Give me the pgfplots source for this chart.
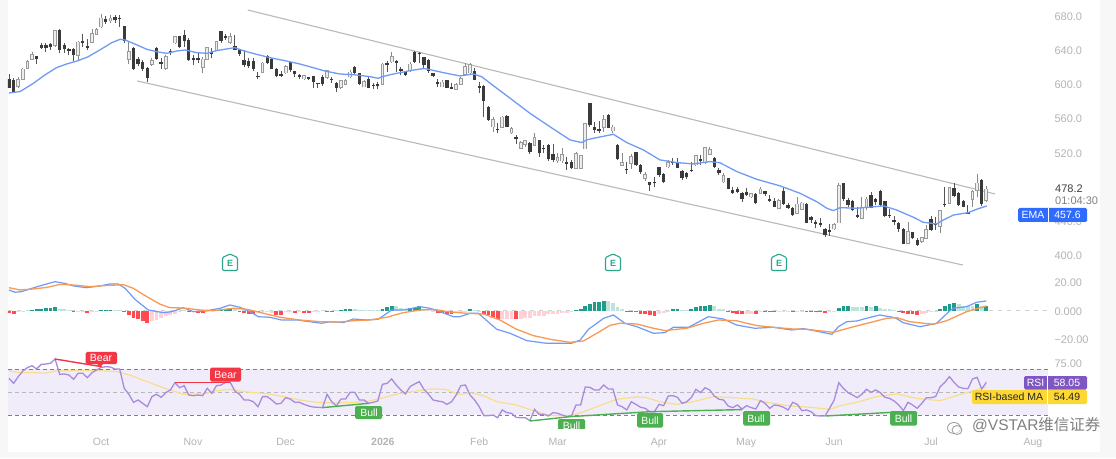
\documentclass[border=0pt]{standalone}
\usepackage{pgfplots}
\usepackage{pgfplotstable}
\usepackage{fontspec}
\pgfplotsset{compat=1.18}
\setmainfont{Liberation Sans}
\newfontfamily\cjk{Noto Sans CJK SC}
\definecolor{wick}{HTML}{555555}
\definecolor{dbody}{HTML}{3A3A3A}
\definecolor{hout}{HTML}{9A9A9A}
\definecolor{hfill}{HTML}{EDEDED}
\definecolor{ema}{HTML}{6F9BF7}
\definecolor{macdb}{HTML}{6F9BF7}
\definecolor{macdo}{HTML}{F79A55}
\definecolor{trend}{HTML}{B9B9B9}
\definecolor{hG}{HTML}{1F9D8A}
\definecolor{hg}{HTML}{BCE4DD}
\definecolor{hR}{HTML}{FF4A4F}
\definecolor{hr}{HTML}{FFD0D6}
\definecolor{rsi}{HTML}{A98BDD}
\definecolor{rsima}{HTML}{F8DE8C}
\definecolor{band}{HTML}{F1ECFA}
\definecolor{tlabel}{HTML}{B4B4B4}
\definecolor{bullc}{HTML}{4CAF50}
\definecolor{bearc}{HTML}{F23645}
\definecolor{ebadge}{HTML}{2BA68F}
\definecolor{emat}{HTML}{2F6BFF}
\definecolor{rsit}{HTML}{7E57C2}
\definecolor{mat}{HTML}{FDD835}
% i = candle index, h = high, t = top of body, b = bottom of body, l = low
\pgfplotstableread{
i h t b l
0 612.1 605.9 596.5 595.4
1 607 605.1 591.5 591.5
6 633.2 632.4 630 623.8
7 648.8 645.3 643.3 641
8 648.8 646 643.3 638.2
9 648.8 646.8 644.1 640.2
11 664.4 662.8 641 636.3
12 648 646 642.2 637.1
13 642.9 641.4 639.4 634.3
14 642.9 641 634.3 627.7
16 658.9 650 648.8 644.1
17 652.7 644.9 643.3 640.2
21 680 676.5 673.4 670.6
23 680.8 678.4 675.3 671.4
24 681.2 677.3 676.5 667.5
25 668.3 668.3 651.1 648
27 644.1 642.2 618.8 616.8
28 632.4 629.3 623.8 621.5
29 628.5 625.8 618.8 616
30 619.9 618.8 608.2 602.4
32 643.3 642.2 630.5 628.5
33 630.5 625.4 624.6 617.6
35 641 639 637.1 634.3
37 656.6 655.8 644.1 642.2
38 663.6 657 651.1 644.1
39 653.9 651.9 629.3 627.7
40 634.3 630.5 628.5 622.6
41 638.2 630.5 629.3 624.6
44 642.2 637.1 635.5 630.5
46 662.4 661.6 651.1 648.8
47 658.5 656.6 655 651.9
49 657.7 644.1 641 640.2
50 641 639.4 636.3 633.2
51 640.2 627.7 622.7 619.9
52 630.5 627.3 621.9 619.5
53 630.5 627.3 618.8 616
54 614.9 609.8 609 605.9
56 634.3 632.4 625.8 623.8
57 630.5 629.3 618.8 617.6
58 618.8 618 609.8 608.2
59 616 612.1 610.6 608.2
61 626.6 625.4 616.8 614.9
62 616 614.9 612.1 608.2
63 612.1 610.2 609 605.9
65 609 608.2 606.7 605.1
66 609.8 609 603.2 595.4
67 602 601.2 600.4 595.4
68 611 608.2 600.4 598.1
70 608.2 606.3 605.1 602
71 603.2 601.2 596.5 591.5
75 621.5 619.9 614.1 612.1
76 613.7 612.9 601.2 599.2
78 608.2 606.3 596.5 595.4
79 602 599.3 598.1 594.2
80 603.2 600 598.1 594.2
82 627.7 624.6 623.4 614.9
84 628.5 627.3 625.8 614.9
85 619.9 617.6 616 610.9
86 616 614.9 610.9 610.2
88 639.4 637.5 626.5 624.6
89 638.3 636.3 635.5 624.6
90 632.4 631.6 622.6 618.8
91 629.3 628.5 616 613.7
92 613.7 612.9 610.2 609
93 605.9 602 600.4 597.3
95 605.1 604.3 596.5 595.7
96 602 596.5 595 594.2
101 618.8 614.9 605.9 605.1
102 603.2 598.1 596.5 590.3
103 599.3 598.1 580.9 561.4
104 574.7 573.1 558.3 557.5
106 554.4 547.8 546.6 542.7
108 564.2 563 550.5 549.7
110 540.7 537.6 535.7 530.2
113 533 531 521.3 518.5
115 534.9 534.1 519.3 515.4
116 529 525.2 524 520.1
117 530.2 529 512.3 510.7
118 529.8 518.1 511.5 509.6
121 514.6 508.4 506.8 499.8
122 511.5 509.2 501.8 500.6
126 578.6 577.8 552.4 550.5
127 556.4 549.7 546.6 542.7
128 557.5 547.4 545.8 542.7
130 565.3 563.4 549.7 548.6
132 529.8 529 512.7 511.5
134 509.6 500.6 499.4 495.1
136 520.9 520.1 505.7 504.9
137 506.8 505.7 497.9 495.1
139 485.8 485 481.9 475.6
140 491.2 485 484.2 480.3
141 503.7 502.9 494 492
142 495.9 495.1 486.2 485
144 513.4 508.8 507.6 505.7
145 513.4 508.8 502.9 501.7
146 499.8 498.6 490.1 488.1
147 497.9 495.9 491.2 488.9
148 508.8 499.8 499 497.9
150 517.4 512.3 510.7 505.7
153 515.4 513.5 503.7 501.7
154 501.7 499.8 495.9 494
156 490.7 490 478.3 477.1
157 480.2 475.5 473.6 471.6
158 480.2 477.1 474 472.4
159 474.4 472.4 465.8 462.7
160 478.3 473.2 470.4 469.3
162 473.2 471.6 461.5 459.9
164 475.5 474.4 472.4 469.3
165 470.4 465.4 463.8 462.7
166 466.5 462.7 456.8 456
168 479.4 474.4 459.9 458.8
169 460.7 458.8 456 453.7
170 456 454.9 447 445.9
173 460.7 459.9 438.1 437.3
174 445.9 444.3 442 438.1
175 441.2 438.1 436.5 431.4
176 443.2 437.3 435.4 432.6
177 431.4 430.3 423.7 420.9
178 436.5 428.7 427.6 422.5
181 484.9 484.1 466.5 463.8
182 466.5 463.8 458.8 456
183 464.6 462.7 452.9 452.1
184 456 447 445.1 443.2
187 474.4 469.7 456 454.9
188 466.5 465.4 462.7 458.8
189 476.3 475.1 458.8 457.6
190 463.8 462.7 446.3 445.1
191 453.7 447 445.9 443.2
192 445.9 441 439.3 435.4
193 439.3 437.3 431.4 427.6
194 431.4 430.3 413.9 413.1
196 427.6 426.4 419.8 418.6
197 419.8 417.8 412 410.8
200 445.9 442 429.5 428.7
201 444.3 437.3 435.4 429.5
203 479.4 459.9 458.8 456.8
205 484.9 478.3 469.3 467.7
206 474.4 472.4 458.8 457.6
207 464.6 462.7 456.8 456
208 458.8 449.8 449 448.2
211 488.8 488 459.9 457.6
}\downT
\pgfplotstableread{
i h t b l
2 608.2 605.1 598.1 595.4
3 618.8 617.6 605.9 605.1
4 628.5 626.6 618.8 617.6
5 638.2 634.3 629.3 628.5
10 663.6 662.4 646 644.1
15 651.1 649.2 634.3 627.7
18 664.4 658.9 649.2 648
19 665.6 663.6 658.9 657.7
20 682.3 677.3 667.5 665.6
22 681.2 677.3 674.5 671.4
26 650 638.2 629.3 623.8
31 630.5 627.7 623.8 621.9
34 634.3 632.4 618.8 616.8
36 657 655.8 648.8 647.2
42 631.6 629.3 619.9 613.7
43 644.1 642.9 629.3 628.5
45 651.1 650 640.2 639.4
48 659.7 655.8 649.2 647.2
55 626.6 624.6 614.1 612.9
60 622.6 620.7 613.7 612.1
64 611 609.8 606.7 605.1
69 616.8 615.6 608.2 606.7
72 605.1 604.3 596.5 594.2
73 605.9 604.3 600.4 599.2
74 616.8 614.1 609 607
77 605.1 603.2 597.3 596.5
81 624.6 623.4 600.4 599.3
83 638.3 632.4 626.5 625.4
87 626.5 623.4 616 614.9
94 605.1 602.4 597.3 596.5
97 601.2 599.3 594.6 593.4
98 608.2 606.3 600 599.3
99 624.6 620.7 612.1 610.9
100 625.4 622.6 613.7 612.1
105 561.4 558.3 550.5 544.7
107 563 561.4 549.7 548.6
109 550.5 547.8 543.5 541.9
111 534.1 531.8 525.5 524.4
112 534.9 533.7 530.2 527.1
114 542.7 537.6 529 527.9
119 519.3 514.2 510.7 508.4
120 525.2 517.4 510.7 507.6
123 521.3 518.5 502.2 501.4
124 517.4 516.2 502.2 501.4
125 555.2 553.6 524.8 524
129 564.2 558.3 549.7 544.7
131 552.4 549.7 545.8 543.5
133 519.3 507.6 505.7 504.9
135 518.5 514.6 507.6 500.6
138 497.9 493.6 490.1 487.3
143 511.5 508.4 503.7 501.7
149 517.4 516.2 506 504.5
151 527.1 525.2 508.4 506.8
152 526.3 523.2 518.5 517.4
155 495.8 493.1 486 484.9
161 473.2 471.6 468.5 467.3
163 480.2 477.1 472.4 471.6
167 465.4 463.8 454.9 453.7
171 468.5 459.5 449 448.2
172 462.7 460.7 453.7 452.9
179 437.3 435.4 431.1 429.5
180 484.1 481 438.1 437.3
185 468.5 454.9 443.2 442.4
186 468.5 465.4 456 452.9
195 439.3 427.6 413.9 412.7
198 421.7 419.8 416.6 414.7
199 435.4 429.5 419.8 418.6
202 452.9 451.7 434.2 425.6
204 480.2 478.3 460.7 459.9
209 476.3 474.4 465.8 456
210 495 484.1 476.3 468.5
212 481 477.1 464.6 462.6
}\upT
\pgfplotsset{
  pane/.style={
    scale only axis, width=1040pt,
    xmin=-0.217, xmax=225.38,
    axis line style={draw=none},
    tick style={draw=none},
    ytick pos=right,
    yticklabel pos=right,
    yticklabel style={anchor=west,text=tlabel,font=\fontsize{11}{13}\selectfont,xshift=3pt,yshift=-0.7pt},
    xtick=\empty,
  },
  wk/.style={draw=wick,line width=0.9pt,-},
}
\begin{document}
\begin{tikzpicture}
\path[use as bounding box] (0,0) rectangle (1116pt,458pt);
\fill[white!97!black] (0,0) rectangle (1116pt,458pt);
\fill[white] (8pt,6pt) rectangle (1100pt,458pt);

% ---------- price pane ----------
\begin{axis}[pane, name=price, anchor=south west, at={(8pt,186pt)}, height=272pt,
  ymin=380.24, ymax=698.74,
  ytick={400,440,520,560,600,640,680},
  yticklabels={400.0,440.0,520.0,560.0,600.0,640.0,680.0}]
\addplot[trend,line width=1.1pt] coordinates {(51.8,687) (213.9,471.6)};
\addplot[trend,line width=1.1pt] coordinates {(27.8,603.9) (206.9,388.4)};
\addplot[wk,quiver={u=0,v=\thisrow{h}-\thisrow{l}}] table[x=i,y=l] {\downT};
\addplot[wk,draw=wick!70,quiver={u=0,v=\thisrow{h}-\thisrow{l}}] table[x=i,y=l] {\upT};
\addplot[draw=dbody,-,line width=3.3pt,quiver={u=0,v=\thisrow{t}-\thisrow{b}+0.6}] table[x=i,y expr=\thisrow{b}-0.3] {\downT};
\addplot[draw=hout,-,line width=3.8pt,quiver={u=0,v=\thisrow{t}-\thisrow{b}+1.8}] table[x=i,y expr=\thisrow{b}-0.9] {\upT};
\addplot[draw=hfill,-,line width=1.8pt,quiver={u=0,v=\thisrow{t}-\thisrow{b}}] table[x=i,y=b] {\upT};
\addplot[ema,line width=1.3pt] coordinates {
(0,589.9)(2.4,591.5)(5.3,601.2)(7.8,611)(10.3,619.5)(12.5,623.8)(15,627.7)(17.2,632.4)(19.7,640.2)(22.3,648.8)(24.1,652.7)(25.2,651.9)(27.3,647.2)(29.9,641)(32,638.2)(34.2,636.3)(36.4,639)(38.2,640.2)(40.7,637.1)(42.9,636.3)(45,639.4)(47.2,641.4)(49,642.9)(50.8,639.4)(53.7,635.1)(56.6,631.2)(60.2,627.3)(63.1,623.8)(66,619.5)(68.5,615.6)(71.8,612.1)(74.7,611.3)(78.3,609)
(80.1,607)(81,609)(83.4,612.1)(87,616)(89.9,618.4)(91,617.6)(94.2,613.7)(97.8,609.8)(100.7,612.1)(102.5,609)(105.8,595.4)(108.7,583.7)(113,566.1)(117.3,550.5)(121.7,534.9)(124.2,531.8)(125.3,534.9)(126.8,536.8)(131.1,541.5)(134,531.8)(137.6,523.2)(141.2,511.5)(144.8,508.4)(148.4,506.8)(152,509.5)(154.2,508.2)(157.9,497.8)
(162.2,488.8)(167.3,481)(171.6,472.4)(175.2,462.6)(177.4,454.9)(178.8,452.1)(180.3,455.6)(183.9,454.9)(189.7,457.6)(192.5,452.9)(196.2,444.3)(198.3,438.5)(201.2,436.5)(202.7,441.2)(204.9,447)(208.1,449.8)(209.9,453.7)(212.1,457.6)};
\end{axis}

% ---------- MACD pane ----------
\begin{axis}[pane, name=macd, anchor=south west, at={(8pt,110pt)}, height=76pt,
  ymin=-26.08, ymax=27.06,
  ytick={-20,0,20}, yticklabels={−20.00,0.000,20.00}]
\addplot[draw=black!18,dash pattern=on 4pt off 5pt,line width=0.8pt] coordinates {(-0.2,0) (225.38,0)};
\addplot[hR,ycomb,line width=3.8pt] coordinates {(0,-1.8)(1,-2.5)(14,-0.7)(17,-1.5)(25,-1.2)(26,-2.8)(27,-5)(28,-6)(29,-7)(30,-8.7)(39,-0.6)(40,-1.2)(41,-1.8)(42,-1.8)(50,-0.8)(51,-1.5)(52,-2.2)(53,-2.6)(54,-1)(58,-3)(59,-3)(62,-1.5)(64,-1.5)(65,-1.5)(69,-1)(70,-1)(93,-1.5)(94,-1.8)(95,-2)(96,-2.5)(103,-2)(104,-3)(105,-4.5)(106,-5.5)(110,-6)(134,-0.5)(135,-0.6)(136,-1)(137,-2)(138,-2.5)(139,-3)(140,-3.5)(156,-0.6)(157,-1.5)(158,-2)(159,-2.5)(162,-2.5)(164,-0.8)(165,-1.2)(166,-1.2)(170,-1)(173,-1)(174,-1.2)(175,-1.2)(176,-1.2)(177,-1.5)(193,-0.4)(194,-1.5)(195,-2)(196,-2)(197,-3)};
\addplot[hr,ycomb,line width=3.8pt] coordinates {(2,-0.8)(3,-0.5)(15,-0.5)(16,-0.5)(18,-0.5)(19,-0.4)(31,-7.5)(32,-6.5)(33,-5)(34,-4)(35,-3)(36,-2)(37,-0.5)(43,-0.5)(55,-0.7)(56,-1)(57,-1.5)(60,-1)(61,-0.8)(63,-0.5)(66,-1)(67,-0.5)(92,-0.5)(97,-1)(98,-0.7)(99,-0.7)(102,-0.5)(107,-5.5)(108,-5.5)(109,-5.5)(111,-6)(112,-5)(113,-5)(114,-4)(115,-3.5)(116,-3.5)(117,-2.5)(118,-2.5)(119,-2)(120,-1.5)(121,-1.5)(122,-1)(141,-2.5)(142,-1.5)(143,-0.5)(160,-2)(161,-2)(163,-0.7)(167,-0.5)(168,-0.5)(169,-0.7)(171,-0.5)(172,-0.5)(178,-1)(179,-0.5)(198,-2)(199,-1.5)(200,-0.6)(201,-0.2)};
\addplot[hG,ycomb,line width=3.8pt] coordinates {(5,0.5)(6,1)(7,1.2)(8,1.8)(9,2)(10,2.5)(20,0.6)(21,0.8)(22,0.8)(46,0.8)(47,1)(48,1.3)(72,0.5)(73,1)(74,1.5)(81,1.5)(82,2.5)(83,3.5)(87,2)(88,2.2)(89,3)(100,1)(123,0.5)(124,1.5)(125,3.5)(126,5)(127,6)(128,6)(129,7)(144,1)(145,1.2)(148,1)(149,2.5)(150,3)(151,3.5)(152,4)(180,2)(181,3.5)(182,3.5)(186,3.5)(188,3)(202,1.2)(203,3)(204,5)(205,5.5)(210,4.5)(212,3.5)};
\addplot[hg,ycomb,line width=3.8pt] coordinates {(4,0.3)(11,1.5)(12,1)(13,0.5)(23,0.4)(24,0.3)(38,0.4)(44,0.3)(45,0.3)(49,1)(68,0.2)(71,0.3)(75,1)(76,0.8)(77,0.5)(78,0.3)(79,0.3)(80,0.5)(84,3)(85,2)(86,1.5)(90,1.5)(91,0.5)(101,0.5)(130,6.5)(131,5.5)(132,2.5)(133,1)(146,0.6)(147,0.3)(153,3)(154,1.5)(155,1)(183,2.5)(184,2.5)(185,2.5)(187,2.5)(189,2)(190,1.5)(191,1)(192,0.5)(206,4.5)(207,3.5)(208,3)(209,3)(211,3)};
\addplot[macdb,line width=1.2pt] coordinates {
(0,14.5)(1.3,12.9)(2.7,13.3)(4.9,15.6)(7.4,18)(10,20.3)(12.1,19.1)(14,17.3)(16.8,16.1)(19.7,17.3)(21.9,18.7)(23.7,18.7)(25.2,15.6)(27.3,8)(30.2,0.5)(33.5,-1.4)(35.3,-0.7)(37.8,2.1)(40,-0.7)(42.9,0)(45.8,1.7)(47.9,4)(50.1,2.4)(52.3,-0.7)(54.1,-4.2)(56.6,-4.6)(59.1,-6.5)(62.4,-6.5)(65.3,-7.7)(67.8,-8.8)(69.6,-7.7)(72.5,-8.3)(74.7,-5.8)(77.6,-6.5)(80.1,-6)(83,0.5)(85.5,0.5)(89.2,2.8)(91.3,1.7)(93.5,-0.7)(96.4,-4.2)(97.8,-4.2)(100,-1.8)(101.8,-1.8)(103.3,-6)(105.8,-13)(108.7,-15.8)(112.3,-20.9)(116.6,-22.8)(122,-22.8)(123.9,-20.5)(125.7,-13)(129,-5.3)(131.1,-3)(133.6,-8.8)(136.2,-11.2)(139.8,-15.8)(142.3,-15.3)(144.1,-11.6)(147.4,-11.6)(151.7,-4.2)(155,-5.8)(157.8,-10)(161.8,-12.3)(165.8,-11.6)(169.8,-13.5)(172.3,-12.5)(175.6,-14.6)(178.5,-16.5)(179.9,-11.2)(181.7,-7.7)(183.9,-7.2)(186,-5.3)(188.9,-3)(192.2,-4.9)(194,-8.4)(197.6,-11.2)(201.2,-8.8)(204.1,0)(204.8,1.7)(207.7,2.8)(209.9,5.9)(212,6.8)};
\addplot[macdo,line width=1.3pt] coordinates {
(0,16.1)(2.4,14.5)(5.3,15.2)(8.2,16.3)(11.1,18.4)(14,18)(17.6,16.8)(20.5,17.5)(24.8,18.2)(27,15.6)(29.9,9.8)(32.8,4.5)(34.9,2.1)(37.8,1.9)(41.4,0.5)(44.3,0)(48.7,1.7)(51.6,1)(55.2,-1.8)(58.8,-4.6)(63.1,-6.5)(67.5,-7.7)(71.8,-7.9)(74.7,-7)(78.3,-6.5)(81.9,-4.6)(85.5,-1.4)(89.2,0.5)(92,1)(95.7,-0.9)(99.3,-1.8)(102.9,-2.3)(106.5,-6.5)(110.1,-13)(113.7,-17.4)(117.4,-20)(121.7,-22.1)(124.6,-21.2)(127.5,-15.8)(130.4,-10.2)(132.5,-8.8)(136.2,-9.3)(139.8,-12.3)(142.3,-13.9)(147,-12.3)(150.6,-8.8)(153.9,-6.5)(157.8,-7)(160.7,-9.3)(162.2,-10.4)(165.8,-11.6)(170.1,-12.8)(173,-13)(178.8,-15.1)(183.2,-11.2)(187.5,-7.7)(190.4,-5.3)(192.6,-4.9)(195.4,-7.7)(200.5,-9.5)(203.4,-7)(207.7,-0.7)(212,3.3)};
\end{axis}

% ---------- RSI pane ----------
\begin{axis}[pane, name=rsi, anchor=south west, at={(8pt,30pt)}, height=76pt,
  ymin=19.14, ymax=84.66, clip=true,
  ytick={75}, yticklabels={75.00},
  xtick={19.96,39.9,60,81.1,102,119,141,159.9,179,200,222.1},
  xticklabels={Oct,Nov,Dec,\textbf{2026},Feb,Mar,Apr,May,Jun,Jul,Aug},
  xticklabel style={text=tlabel,font=\fontsize{10.5}{12}\selectfont,yshift=-5.5pt,text height=8pt,text depth=0pt}]
\addplot[draw=none,fill=band] coordinates {(-0.217,30) (225.38,30) (225.38,70) (-0.217,70)} -- cycle;
\addplot[draw=black!50,dash pattern=on 4pt off 3pt,line width=0.8pt] coordinates {(-0.217,70) (225.38,70)};
\addplot[draw=black!28,dash pattern=on 4pt off 3pt,line width=0.8pt] coordinates {(-0.217,50) (225.38,50)};
\addplot[draw=black!50,dash pattern=on 4pt off 3pt,line width=0.8pt] coordinates {(-0.217,30) (225.38,30)};
\addplot[rsima,line width=1.2pt] coordinates {
(0,68.3)(2.4,66.9)(5.3,66.9)(7.8,66.3)(10,68.3)(13.2,68.6)(19.7,68.6)(23.4,67.7)(26.2,64.8)(29.9,59.1)(34.2,52.8)(37.8,48.2)(42.2,48.5)(45,51.3)(47.9,52.5)(51.6,50.2)(55.9,48.7)(59.5,46.2)(63.1,43.3)(66.7,41.3)(70.4,40.7)(74.7,41.3)(78.3,42.4)(81.2,45.3)(84.8,49)(88.4,51)(91.7,52.8)(94.6,52.5)(97.5,48.2)(100.4,49.3)(102.9,47)(105.8,41.8)(110.1,39)(113.7,34.1)(117.4,29.8)(121.7,29.5)(124.6,33.2)(128.9,39.5)(131.8,43.9)(136.2,45.9)(138,45.6)(141.2,41.8)(144.9,39.5)(148.4,41.8)(152.8,46.2)(157.1,45.3)(161.5,44.1)(164.4,41.3)(169.4,38.1)(173.8,37)(178.1,35.2)(180.3,38.4)(183.9,41.3)(188.2,46.2)(192.6,48.5)(196.9,44.7)(202,42.7)(207.7,49.6)(212,54.5)};
\addplot[rsi,line width=1.3pt] coordinates {
(0,62)(1,57.6)(2,63.4)(3,68.3)(4,71.2)(5,72.9)(6,70)(7,74)(8,74.3)(9,74.9)(10,78.6)(11,65.4)(12,65.7)(13,64.8)(14,61.1)(15,66.3)(16,66.3)(17,62.5)(18,66.8)(19,69.1)(20,71.4)(21,72)(22,71.7)(23,70)(24,70)(25,53.3)(26,48.2)(27,41.3)(28,43.3)(29,40.4)(30,37.5)(31,46.2)(32,48.2)(33,45.6)(34,49.6)(35,51.9)(36,58.2)(37,53.9)(38,55.6)(39,47.6)(40,47)(41,47.6)(42,47)(43,53.3)(44,49)(45,55.6)(46,56.2)(47,58.5)(48,58.5)(49,51)(50,48.2)(51,43.3)(52,43.3)(53,41.8)(54,37.5)(55,46.2)(56,46.2)(57,43.3)(58,39.8)(59,40.4)(60,45.3)(61,44.1)(62,41.3)(63,41.3)(64,39.5)(65,38.1)(66,37.2)(67,37)(68,36.7)(69,48.2)(70,41.8)(71,38.1)(72,44.1)(73,44.1)(74,49.9)(75,49.9)(76,43.3)(77,43.3)(78,40.4)(79,41.3)(80,42.4)
(81,56.8)(82,57.6)(83,61.4)(84,56.2)(85,51.9)(86,48.5)(87,54.8)(88,57.1)(89,59.1)(90,52.5)(91,48.2)(92,43.3)(93,42.4)(94,41.8)(95,39.5)(96,41.8)(97,47.6)(98,55.6)(99,56.2)(100,47.6)(101,43.3)(102,37.5)(103,29.8)(104,29.8)(105,30.3)(106,28)(107,34.7)(108,32.4)(109,31.8)(110,28.3)(111,28)(112,28)(113,25.5)(114,35.2)(115,30.9)(116,30.9)(117,29.5)(118,32.4)(119,31.8)(120,30.3)(121,29.2)(122,29.5)(123,39)(124,39)(125,54.5)(126,54.2)(127,51.9)(128,51.9)(129,56.2)(130,52.8)(131,52.8)(132,39)(133,37.5)(134,34.7)(135,41.8)(136,39.5)(137,37)(138,36.1)(139,33.2)(140,33.2)(141,39.5)(142,38.4)(143,46.7)(144,47)(145,45.6)(146,40.4)(147,41.8)(148,45.3)(149,52.5)(150,49.6)(151,53.9)(152,51.9)(153,46.7)(154,43.9)(155,43.3)(156,38.1)(157,36.7)(158,39)(159,35.5)
(160,38.4)(161,36.7)(162,35.5)(163,42.7)(164,40.4)(165,36.1)(166,39)(167,38.4)(168,37)(169,34.7)(170,41.3)(171,39.5)(172,34.1)(173,34.7)(174,33.2)(175,29.8)(176,29.5)(177,29.5)(178,36.1)(179,43.3)(180,58.2)(181,53.3)(182,49.6)(183,47.6)(184,45.3)(185,48.2)(186,52.5)(187,49.9)(188,51.9)(189,49.6)(190,45.6)(191,44.7)(192,42.4)(193,39)(194,34.1)(195,41.3)(196,39)(197,36.1)(198,40.4)(199,45.3)(200,45.3)(201,46.2)(202,54.8)(203,58.5)(204,63.4)(205,58.5)(206,54.5)(207,53.3)(208,53)(209,61.4)(210,62.8)(211,52.8)(212,58.5)};
\addplot[bearc,line width=1.4pt] coordinates {(10,78.6) (20.1,72)};
\addplot[bearc,line width=1.4pt] coordinates {(36,58.2) (47.9,58.2)};
\addplot[bullc,line width=1.4pt] coordinates {(68,36.7) (78,40.4)};
\addplot[bullc,line width=1.4pt] coordinates {(113,25.2) (122,29) (139,33.2) (159,35)};
\addplot[bullc,line width=1.4pt] coordinates {(177.2,29.5) (194,33.2)};
\end{axis}

% ---------- tags and annotations, placed in image pixels ----------
\begin{scope}[x=1pt,y=-1pt,shift={(0pt,458pt)},
    lab/.style={font=\fontsize{10.5}{12}\selectfont,inner sep=0pt}]
  % price tags
  \node[lab,anchor=west,text=black!75,font=\fontsize{11}{13}\selectfont] at (1055,188.5) {478.2};
  \node[lab,anchor=west,text=black!50,font=\fontsize{11}{13}\selectfont] at (1055,201) {01:04:30};
  \fill[emat,rounded corners=1.5pt] (1018,208) rectangle (1087,222);
  \draw[white,line width=0.6pt] (1048,208) -- (1048,222);
  \node[lab,text=white] at (1033,215) {EMA};
  \node[lab,text=white] at (1067.5,215) {457.6};
  % RSI tags
  \fill[rsit,rounded corners=1.5pt] (1024,376) rectangle (1087,389.5);
  \draw[white,line width=0.6pt] (1047,376) -- (1047,389.5);
  \node[lab,text=white] at (1035.5,382.8) {RSI};
  \node[lab,text=white] at (1067,382.8) {58.05};
  \fill[mat,rounded corners=1.5pt] (972,390) rectangle (1087,404);
  \draw[white,line width=0.6pt] (1047,390) -- (1047,404);
  \node[lab,text=black!85] at (1009,397) {RSI-based MA};
  \node[lab,text=black!85] at (1067,397) {54.49};
  % Bear / Bull labels
  \fill[bearc,rounded corners=1.5pt] (85.5,352) rectangle (117,364);
  \fill[bearc] (97,364) -- (103,364) -- (100,367) -- cycle;
  \node[lab,text=white] at (101,358) {Bear};
  \fill[bearc,rounded corners=1.5pt] (210,367.5) rectangle (241,381.5);
  \node[lab,text=white] at (225.5,374.5) {Bear};
  \begin{scope}
    \clip (0,352) rectangle (1116,428);
    \fill[bullc,rounded corners=1.5pt] (355,406) rectangle (382,419);
    \node[lab,text=white] at (369,412.5) {Bull};
    \fill[bullc,rounded corners=1.5pt] (558,419) rectangle (585,434);
    \node[lab,text=white] at (571.5,426) {Bull};
    \fill[bullc,rounded corners=1.5pt] (637,413) rectangle (663,427.5);
    \node[lab,text=white] at (650,421) {Bull};
    \fill[bullc,rounded corners=1.5pt] (743,411) rectangle (770,425.5);
    \node[lab,text=white] at (756,418.5) {Bull};
    \fill[bullc,rounded corners=1.5pt] (890,411) rectangle (917,425.5);
    \node[lab,text=white] at (903.5,418.5) {Bull};
  \end{scope}
  % earnings badges
  \foreach \cx in {230,613,779}{
    \draw[ebadge,line width=1.1pt,fill=white,rounded corners=1.2pt,line join=round]
      (\cx-7.5,257.5) -- (\cx,254) -- (\cx+7.5,257.5) -- (\cx+7.5,270.5) -- (\cx-7.5,270.5) -- cycle;
    \node[inner sep=0pt,text=ebadge,font=\fontsize{9}{10}\selectfont\bfseries] at (\cx,263.2) {E};
  }
  % watermark
  \draw[black!40,line width=0.8pt,fill=white,fill opacity=0.6] (954,428) ellipse (6.5 and 5.5);
  \draw[black!40,line width=0.8pt,fill=white,fill opacity=0.6] (957,430) ellipse (5 and 4.5);
  \node[anchor=west,inner sep=0pt,text=black!50,font=\fontsize{15.5}{17}\selectfont] at (972,425)
    {@VSTAR{\cjk 维信证券}};
\end{scope}
\end{tikzpicture}
\end{document}
